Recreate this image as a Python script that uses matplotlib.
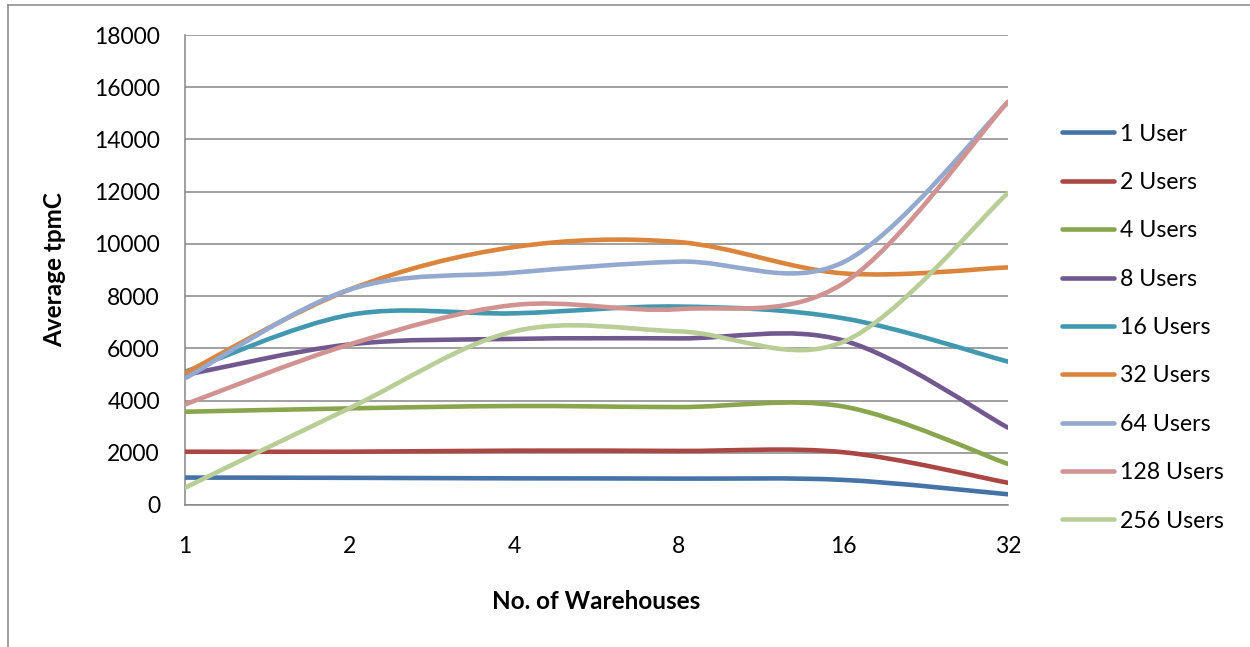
import numpy as np
import matplotlib
matplotlib.use("Agg")
import matplotlib.pyplot as plt
from matplotlib.path import Path
from matplotlib.patches import PathPatch
from matplotlib.lines import Line2D

plt.rcParams['font.family'] = ['Lato', 'DejaVu Sans']

warehouses = ["1", "2", "4", "8", "16", "32"]

users_1 = [1050, 1040, 1020, 1010, 960, 410]
users_2 = [2040, 2040, 2080, 2070, 2020, 850]
users_4 = [3570, 3700, 3790, 3750, 3770, 1570]
users_8 = [4980, 6150, 6360, 6380, 6300, 2960]
users_16 = [5100, 7280, 7340, 7600, 7150, 5490]
users_32 = [5050, 8250, 9880, 10070, 8870, 9100]
users_64 = [4850, 8250, 8900, 9320, 9300, 15420]
users_128 = [3850, 6150, 7660, 7500, 8490, 15450]
users_256 = [660, 3710, 6650, 6650, 6250, 11950]

series = [
    ("1 User", users_1, "#4572A7"),
    ("2 Users", users_2, "#AA4643"),
    ("4 Users", users_4, "#89A54E"),
    ("8 Users", users_8, "#71588F"),
    ("16 Users", users_16, "#4198AF"),
    ("32 Users", users_32, "#DB843D"),
    ("64 Users", users_64, "#93A9CF"),
    ("128 Users", users_128, "#D19392"),
    ("256 Users", users_256, "#B9CD96"),
]


def smooth_path(xs, ys):
    # Catmull-Rom style bezier through every point, like a spreadsheet "smoothed line"
    pts = np.column_stack([xs, ys]).astype(float)
    n = len(pts)
    verts = [pts[0]]
    codes = [Path.MOVETO]
    for i in range(n - 1):
        p0 = pts[max(i - 1, 0)]
        p1 = pts[i]
        p2 = pts[i + 1]
        p3 = pts[min(i + 2, n - 1)]
        c1 = p1 + (p2 - p0) / 6.0
        c2 = p2 - (p3 - p1) / 6.0
        verts += [c1, c2, p2]
        codes += [Path.CURVE4] * 3
    return Path(verts, codes)


fig = plt.figure(figsize=(12.5, 6.47), dpi=100)
ax = fig.add_axes([0.148, 0.2195, 0.6584, 0.7264])

x = np.arange(len(warehouses))
handles = []
for name, vals, color in series:
    patch = PathPatch(smooth_path(x, vals), facecolor="none", edgecolor=color,
                      lw=3.3, capstyle="round", joinstyle="round", zorder=3)
    ax.add_patch(patch)
    handles.append(Line2D([], [], color=color, lw=3.3, solid_capstyle="round", label=name))

ax.set_xlim(0, len(warehouses) - 1)
ax.set_ylim(0, 18000)
ax.set_yticks(np.arange(0, 18001, 2000))
ax.set_xticks(x)
ax.set_xticklabels(warehouses)
ax.grid(axis="y", color="#868686", lw=1.1)
ax.set_axisbelow(True)

for side in ["top", "right"]:
    ax.spines[side].set_visible(False)
for side in ["left", "bottom"]:
    ax.spines[side].set_color("#868686")
    ax.spines[side].set_linewidth(1.1)

ax.tick_params(axis="both", length=0, labelsize=16.5, colors="black")
ax.tick_params(axis="y", pad=18)
ax.tick_params(axis="x", pad=22)

ax.set_xlabel("No. of Warehouses", fontsize=17.5, fontweight="bold", labelpad=24)
ax.set_ylabel("Average tpmC", fontsize=17.5, fontweight="bold", labelpad=20)

fig.legend(handles=handles, loc="upper left", bbox_to_anchor=(0.840, 0.8269),
           frameon=False, fontsize=16.7, handlelength=2.25, handletextpad=0.25,
           labelspacing=1.18, borderpad=0)

# chart area border
fig.add_artist(Line2D([8 / 1250, 1.0], [1 - 5 / 647, 1 - 5 / 647],
                      transform=fig.transFigure, color="#868686", lw=1.1))
fig.add_artist(Line2D([8 / 1250, 8 / 1250], [0, 1 - 5 / 647],
                      transform=fig.transFigure, color="#868686", lw=1.1))

fig.savefig("out.png", dpi=100)
